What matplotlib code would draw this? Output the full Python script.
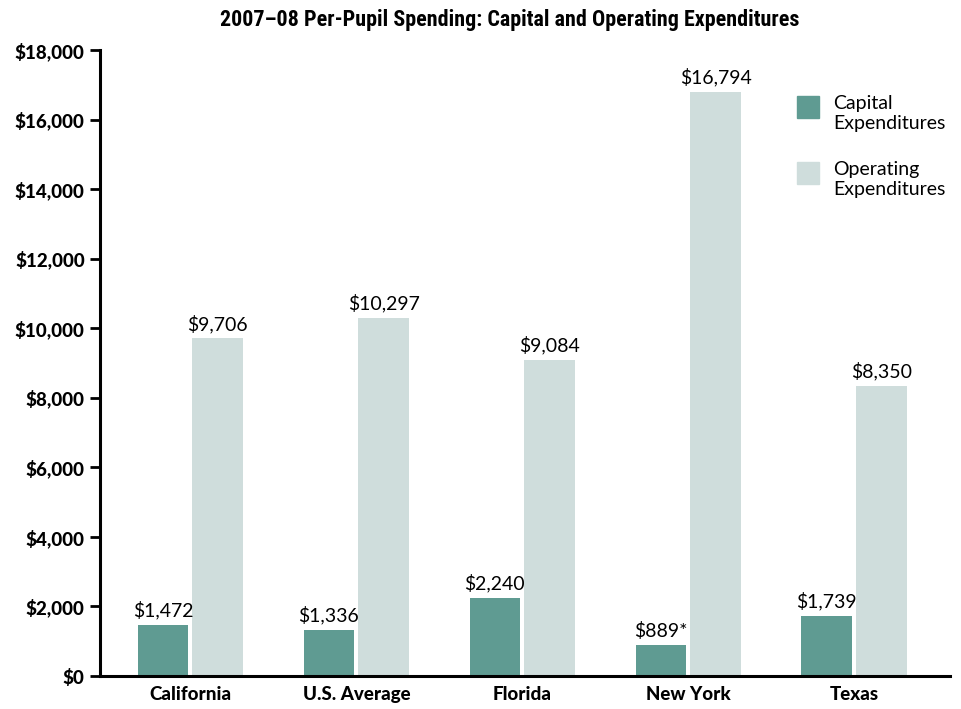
"""2007-08 per-pupil spending: capital vs operating expenditures."""

import matplotlib.pyplot as plt
import numpy as np
from matplotlib.patches import Rectangle
from matplotlib.ticker import FuncFormatter

W, H = 961, 709

regions = ["California", "U.S. Average", "Florida", "New York", "Texas"]
capital = [1472, 1336, 2240, 889, 1739]
operating = [9706, 10297, 9084, 16794, 8350]
capital_labels = ["$1,472", "$1,336", "$2,240", "$889*", "$1,739"]
operating_labels = ["$9,706", "$10,297", "$9,084", "$16,794", "$8,350"]
series_names = ["Capital\nExpenditures", "Operating\nExpenditures"]

CAP_COLOR = "#5f9b92"
OP_COLOR = "#cfdddc"
BAR_W = 0.305
GAP = 0.025
VAL_FONT = ["Lato", "DejaVu Sans"]
BOLD_FONT = ["Lato", "DejaVu Sans"]

fig = plt.figure(figsize=(W / 100, H / 100), dpi=100)
ax = fig.add_axes([100 / W, 1 - 676 / H, 850 / W, 626 / H])

x = np.arange(len(regions))
xc = x - (BAR_W + GAP) / 2
xo = x + (BAR_W + GAP) / 2
ax.bar(xc, capital, width=BAR_W, color=CAP_COLOR, zorder=2)
ax.bar(xo, operating, width=BAR_W, color=OP_COLOR, zorder=2)

for xi, v, lab in zip(xc, capital, capital_labels):
    ax.annotate(lab, (xi, v), xytext=(0, 4), textcoords="offset points",
                ha="center", va="bottom", fontsize=14, family=VAL_FONT)
for xi, v, lab in zip(xo, operating, operating_labels):
    ax.annotate(lab, (xi, v), xytext=(0, 4), textcoords="offset points",
                ha="center", va="bottom", fontsize=14, family=VAL_FONT)

ax.set_xlim(-0.545, 4.578)
ax.set_ylim(0, 18000)
ax.set_yticks(np.arange(0, 18001, 2000))
ax.yaxis.set_major_formatter(FuncFormatter(lambda v, _: f"${v:,.0f}"))
ax.set_xticks(x)
ax.set_xticklabels(regions)

for side in ("top", "right"):
    ax.spines[side].set_visible(False)
for side in ("left", "bottom"):
    ax.spines[side].set_linewidth(2.2)
ax.tick_params(axis="y", length=7, width=2, pad=4)
ax.tick_params(axis="x", length=0, pad=7)
for lab in ax.get_yticklabels() + ax.get_xticklabels():
    lab.set_fontfamily(BOLD_FONT)
    lab.set_fontweight("black")
    lab.set_fontsize(13.5)

# legend, drawn by hand so squares sit at the top of each two-line label
for (top, color, name) in [(96, CAP_COLOR, series_names[0]), (162, OP_COLOR, series_names[1])]:
    fig.patches.append(Rectangle((797 / W, 1 - (top + 22) / H), 22 / W, 22 / H,
                                 transform=fig.transFigure, color=color))
    fig.text(833 / W, 1 - (top - 1) / H, name, ha="left", va="top",
             fontsize=14, family=VAL_FONT, linespacing=1.25)

fig.text(510 / W, 1 - 20 / H, "2007\u201308 Per-Pupil Spending: Capital and Operating Expenditures",
         ha="center", va="center", fontsize=15.8, fontweight="heavy",
         family=["Roboto Condensed", "Roboto", "DejaVu Sans"])

fig.savefig("out.png", dpi=100)
